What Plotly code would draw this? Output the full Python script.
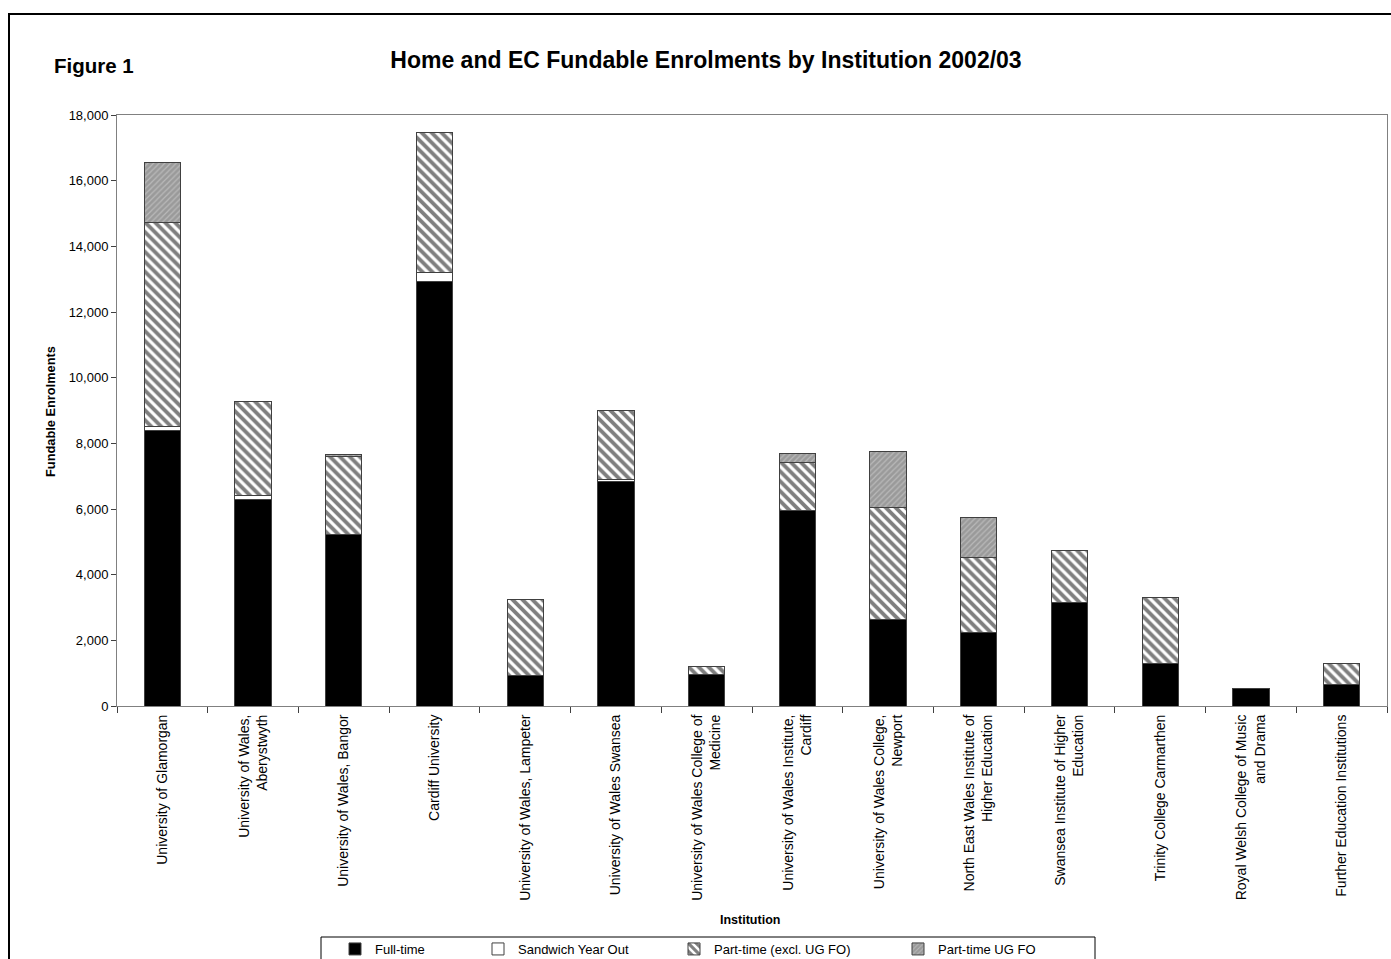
import plotly.graph_objects as go

institutions = [
    "University of Glamorgan",
    "University of Wales,<br>Aberystwyth",
    "University of Wales, Bangor",
    "Cardiff University",
    "University of Wales, Lampeter",
    "University of Wales Swansea",
    "University of Wales College of<br>Medicine",
    "University of Wales Institute,<br>Cardiff",
    "University of Wales College,<br>Newport",
    "North East Wales Institute of<br>Higher Education",
    "Swansea Institute of Higher<br>Education",
    "Trinity College Carmarthen",
    "Royal Welsh College of Music<br>and Drama",
    "Further Education Institutions",
]
full_time = [8400, 6280, 5210, 12920, 920, 6830, 965, 5940, 2620, 2235, 3150, 1290, 520, 650]
sandwich = [120, 120, 0, 270, 0, 80, 0, 0, 0, 0, 0, 0, 0, 0]
part_time = [6200, 2860, 2400, 4290, 2310, 2080, 250, 1480, 3420, 2285, 1580, 2010, 0, 630]
part_time_ugfo = [1820, 0, 60, 0, 0, 0, 0, 270, 1720, 1210, 0, 0, 0, 0]

FONT = "Liberation Sans, Arial, sans-serif"
line = dict(color="#404040", width=1)

# plot-area pixel geometry
L, R, T, B = 117, 1387, 115, 706
PW, PH = R - L, B - T


def px(x):
    return (x - L) / PW


def py(y):
    return (B - y) / PH


fig = go.Figure()
fig.add_bar(x=institutions, y=full_time, name="Full-time", legend="legend",
            marker=dict(color="black", line=line))
fig.add_bar(x=institutions, y=sandwich, name="Sandwich Year Out", legend="legend2",
            marker=dict(color="white", line=line))
fig.add_bar(x=institutions, y=part_time, name="Part-time (excl. UG FO)", legend="legend3",
            marker=dict(color="white", line=line,
                        pattern=dict(shape="\\", fgcolor="black", bgcolor="white",
                                     size=7, solidity=0.55)))
fig.add_bar(x=institutions, y=part_time_ugfo, name="Part-time UG FO", legend="legend4",
            marker=dict(color="#a0a0a0", line=line,
                        pattern=dict(shape="/", fgcolor="#d8d8d8", bgcolor="#9a9a9a",
                                     size=4, solidity=0.3)))

leg_common = dict(orientation="h", yanchor="middle", y=py(949), xanchor="left",
                  bgcolor="rgba(0,0,0,0)", borderwidth=0, itemwidth=30,
                  font=dict(size=13, family=FONT, color="black"))
text_starts = [377, 520, 716, 940]

fig.update_layout(
    barmode="stack",
    bargap=0.6,
    width=1391, height=959,
    margin=dict(l=L, r=1391 - R, t=T, b=959 - B, autoexpand=False),
    paper_bgcolor="white", plot_bgcolor="white",
    font=dict(family=FONT, size=12, color="black"),
    title=dict(text="<b>Home and EC Fundable Enrolments by Institution 2002/03</b>",
               x=706 / 1391, xanchor="center", y=1 - 60 / 959, yanchor="middle",
               font=dict(size=23, family=FONT, color="black")),
    showlegend=True,
    legend=dict(leg_common, x=px(text_starts[0] - 42)),
    legend2=dict(leg_common, x=px(text_starts[1] - 42)),
    legend3=dict(leg_common, x=px(text_starts[2] - 42)),
    legend4=dict(leg_common, x=px(text_starts[3] - 42)),
    xaxis=dict(tickangle=-90, tickfont=dict(size=14, family=FONT),
               showline=True, linecolor="#808080", linewidth=1, mirror=True,
               ticks="outside", tickson="boundaries", ticklen=6, tickcolor="#404040",
               ticklabelstandoff=2, showgrid=False, automargin=False),
    yaxis=dict(range=[0, 18000], dtick=2000, tickformat=",",
               tickfont=dict(size=13, family=FONT),
               showline=True, linecolor="#808080", linewidth=1, mirror=True,
               ticks="outside", ticklen=5, tickcolor="#404040", showgrid=False,
               zeroline=False, automargin=False),
    annotations=[
        dict(text="<b>Figure 1</b>", x=px(52), y=py(65),
             xref="paper", yref="paper", xanchor="left", yanchor="middle",
             showarrow=False, font=dict(size=20.5, family=FONT)),
        dict(text="<b>Institution</b>", x=px(750), y=py(920),
             xref="paper", yref="paper", xanchor="center", yanchor="middle",
             showarrow=False, font=dict(size=12.5, family=FONT)),
        dict(text="<b>Fundable Enrolments</b>", x=px(50), y=py(412),
             xref="paper", yref="paper", xanchor="center", yanchor="middle",
             textangle=-90, showarrow=False, font=dict(size=12.8, family=FONT)),
    ],
    shapes=[
        dict(type="rect", xref="paper", yref="paper",
             x0=px(9), x1=px(1400), y0=py(1000), y1=py(14),
             line=dict(color="black", width=2), fillcolor="rgba(0,0,0,0)", layer="below"),
        dict(type="rect", xref="paper", yref="paper",
             x0=px(321), x1=px(1095), y0=py(975), y1=py(937),
             line=dict(color="black", width=1), fillcolor="rgba(0,0,0,0)", layer="below"),
    ],
)

fig.write_html(
    "out.html",
    config={"displayModeBar": False},
    post_script=(
        "document.documentElement.style.margin='0px';"
        "document.documentElement.style.padding='0px';"
        "document.documentElement.style.overflow='hidden';"
        "document.documentElement.style.height='959px';"
        "document.body.style.margin='0px';"
        "document.body.style.padding='0px';"
        "document.body.style.overflow='hidden';"
        "document.body.style.height='959px';"
    ),
)
